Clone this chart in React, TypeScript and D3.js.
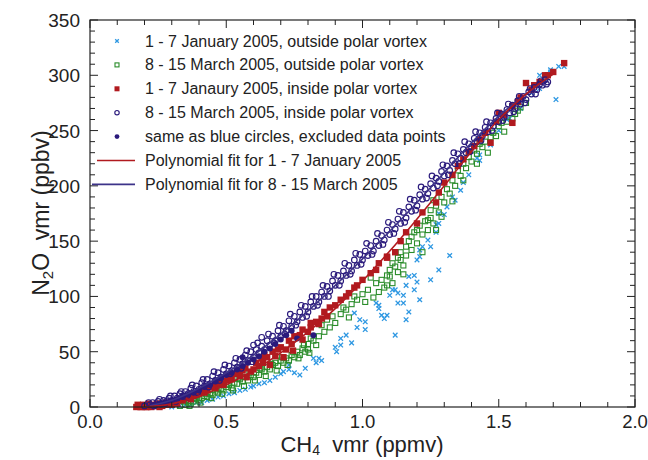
import React from 'react';
import * as d3 from 'd3';

// CH4 (ppmv), N2O (ppbv) pairs
const janOutside = [
  [0.30,0],[0.33,1],[0.35,2],[0.37,2],[0.39,4],[0.41,4],[0.43,6],[0.45,7],[0.47,9],[0.49,10],
  [0.51,12],[0.53,13],[0.55,15],[0.57,16],[0.59,18],[0.60,19],[0.62,21],[0.64,22],[0.66,24],[0.68,27],
  [0.70,30],[0.71,32],[0.73,34],[0.73,38],[0.75,31],[0.77,29],[0.79,35],[0.82,44],[0.84,44],[0.85,42],
  [0.83,40],[0.90,54],[0.905,50],[0.92,62],[0.92,56],[0.94,65],[0.96,58],[0.97,85],[0.98,72],[0.99,79],
  [1.01,70],[1.01,77],[1.05,94],[1.06,89],[1.06,92],[1.07,83],[1.08,80],[1.09,83],[1.10,101],[1.11,106],
  [1.12,65],[1.12,106],[1.13,94],[1.13,103],[1.15,101],[1.15,94],[1.16,79],[1.16,110],[1.17,86],[1.17,118],
  [1.19,106],[1.19,119],[1.20,113],[1.20,133],[1.21,97],[1.21,136],[1.21,142],[1.22,145],[1.24,151],[1.25,115],
  [1.25,145],[1.27,158],[1.27,165],[1.28,124],[1.28,166],[1.28,175],[1.30,174],[1.31,181],[1.32,137],[1.33,190],
  [1.34,187],[1.36,196],[1.37,203],[1.39,210],[1.42,225],[1.43,228],[1.43,223],[1.47,237],[1.50,250],[1.53,260],
  [1.54,261],[1.58,270],[1.585,278],[1.62,284],[1.65,288],[1.65,300],[1.67,296],[1.69,303],[1.69,305],[1.71,278],
  [1.72,308],[1.74,308],
];

const marchOutside = [
  [0.33,1],[0.35,2],[0.36,4],[0.37,3],[0.38,5],[0.39,7],[0.40,6],[0.41,8],[0.42,10],[0.43,9],
  [0.44,12],[0.45,11],[0.46,14],[0.47,13],[0.48,16],[0.49,15],[0.50,18],[0.51,20],[0.52,17],[0.53,22],
  [0.54,21],[0.55,25],[0.56,23],[0.57,27],[0.58,24],[0.59,29],[0.60,27],[0.61,31],[0.62,29],[0.63,34],
  [0.64,32],[0.65,36],[0.66,34],[0.67,38],[0.68,40],[0.69,37],[0.70,42],[0.71,40],[0.72,44],[0.73,42],
  [0.74,47],[0.75,45],[0.76,50],[0.77,47],[0.78,53],[0.79,50],[0.80,52],[0.80,57],[0.82,60],[0.83,56],
  [0.84,64],[0.86,68],[0.87,79],[0.88,72],[0.90,76],[0.92,84],[0.94,88],[0.95,81],[0.96,93],[0.98,97],
  [1.00,102],[1.02,106],[1.03,117],[1.04,99],[1.05,112],[1.07,115],[1.08,108],[1.09,110],[1.09,119],[1.10,124],
  [1.10,118],[1.11,130],[1.12,127],[1.13,135],[1.13,122],[1.14,133],[1.14,140],[1.15,128],[1.16,145],[1.16,137],
  [1.17,150],[1.18,154],[1.18,142],[1.19,158],[1.20,148],[1.20,160],[1.21,164],[1.22,156],[1.23,168],[1.24,169],
  [1.24,160],[1.25,178],[1.25,171],[1.26,187],[1.26,166],[1.27,182],[1.28,176],[1.29,190],[1.30,185],[1.31,197],
  [1.32,193],[1.33,205],[1.34,200],[1.35,214],[1.36,209],[1.37,220],[1.38,216],[1.39,226],[1.40,222],[1.41,232],
  [1.42,229],[1.43,238],[1.44,235],[1.46,230],[1.47,244],[1.48,248],[1.50,254],[1.52,249],[1.53,258],[1.55,261],
  [1.57,268],[1.60,275],
  [0.345,5],[0.365,1],[0.385,8],[0.405,4],[0.425,12],[0.445,8],[0.465,16],[0.485,12],[0.505,21],[0.525,15],
  [0.545,26],[0.565,19],[0.585,31],[0.605,24],[0.625,35],[0.645,28],[0.665,39],[0.685,33],[0.705,45],[0.725,38],
  [0.745,50],[0.765,44],[0.785,56],[0.805,49],[0.81,62],[0.85,74],[0.89,82],[0.93,90],[0.97,100],[1.01,95],
  [1.06,104],[1.11,112],[1.15,120],[1.22,140],[1.27,160],[1.29,172],[1.33,186],[1.37,205],[1.42,220],[1.45,240],
  [1.49,245],[1.51,257],[1.56,265],[1.58,271],
];

const janInside = [
  [0.17,0],[0.18,1],[0.19,0],[0.20,1],[0.21,0],[0.22,2],[0.23,1],[0.24,1],[0.25,2],[0.26,3],
  [0.27,2],[0.28,4],[0.29,3],[0.30,5],[0.31,4],[0.32,6],[0.33,7],[0.34,6],[0.35,8],[0.36,9],
  [0.38,10],[0.40,12],[0.41,14],[0.43,15],[0.44,18],[0.46,17],[0.47,22],[0.49,20],[0.50,24],[0.52,25],
  [0.53,30],[0.55,28],[0.56,33],[0.575,27],[0.59,32],[0.60,34],[0.61,40],[0.635,40],[0.63,44],[0.65,45],
  [0.66,38],[0.67,50],[0.70,54],[0.71,45],[0.72,52],[0.73,60],[0.745,51],[0.75,64],[0.78,61],[0.78,70],
  [0.81,72],[0.81,76],[0.83,77],[0.85,80],[0.86,86],[0.88,90],[0.92,97],[0.95,103],[0.97,108],[1.00,115],
  [1.03,121],[1.05,124],[1.06,130],[1.09,135],[1.09,136],[1.12,140],[1.14,150],[1.16,158],[1.20,166],[1.22,176],
  [1.27,185],[1.28,194],[1.30,203],[1.33,210],[1.35,218],[1.37,224],[1.39,231],[1.41,236],[1.43,242],[1.45,248],
  [1.47,239],[1.49,258],[1.50,266],[1.52,264],[1.55,257],[1.55,272],[1.57,276],[1.58,280],[1.60,293],[1.62,287],
  [1.63,291],[1.65,294],[1.67,300],[1.68,300],[1.70,303],[1.74,311],
  [0.175,2],[0.185,0],[0.195,2],[0.205,0],[0.215,3],[0.225,0],[0.245,3],[0.255,0],[0.265,1],[0.285,2],
  [0.30,2],[0.32,3],[0.37,7],[0.39,11],[0.42,13],[0.45,19],[0.48,21],[0.51,27],[0.54,31],[0.57,35],
  [0.62,37],[0.64,47],[0.68,46],[0.69,52],[0.74,57],[0.77,65],[0.80,68],[0.84,75],[0.87,82],[0.90,92],
  [0.94,100],[0.98,110],
];

const marchInside = [
  [0.20,1],[0.22,2],[0.23,4],[0.24,2],[0.25,5],[0.26,3],[0.27,6],[0.28,5],[0.29,8],[0.30,6],
  [0.31,10],[0.32,8],[0.33,12],[0.34,10],[0.35,14],[0.36,12],[0.37,17],[0.38,14],[0.39,19],[0.40,16],
  [0.41,22],[0.42,19],[0.43,25],[0.44,21],[0.45,28],[0.46,24],[0.47,31],[0.48,27],[0.49,34],[0.50,30],
  [0.51,37],[0.52,33],[0.53,40],[0.54,36],[0.55,43],[0.56,39],[0.57,47],[0.58,42],[0.59,50],[0.60,56],
  [0.60,45],[0.61,52],[0.62,49],[0.63,63],[0.63,55],[0.64,52],[0.65,60],[0.66,56],[0.67,64],[0.68,60],
  [0.69,69],[0.70,64],[0.71,73],[0.72,69],[0.73,78],[0.74,73],[0.75,82],[0.76,77],[0.77,86],[0.78,81],
  [0.79,91],[0.80,86],[0.81,95],[0.82,91],[0.83,100],[0.84,95],[0.85,104],[0.86,100],[0.87,109],[0.88,105],
  [0.89,114],[0.90,110],[0.91,119],[0.92,114],[0.93,123],[0.94,119],[0.95,128],[0.96,123],[0.97,133],[0.98,128],
  [0.99,138],[1.00,133],[1.01,141],[1.02,137],[1.03,146],[1.04,141],[1.05,150],[1.06,146],[1.07,155],[1.08,151],
  [1.09,160],[1.10,156],[1.11,165],[1.12,161],[1.13,170],[1.14,166],[1.15,176],[1.16,171],[1.17,181],[1.18,177],
  [1.19,187],[1.20,182],[1.21,192],[1.22,188],[1.23,197],[1.24,193],[1.25,202],[1.26,198],[1.27,207],[1.28,204],
  [1.29,213],[1.30,209],[1.31,218],[1.32,214],[1.33,223],[1.34,220],[1.35,229],[1.36,225],[1.37,233],[1.38,230],
  [1.39,238],[1.40,235],[1.41,243],[1.42,240],[1.43,248],[1.44,245],[1.45,253],[1.46,249],[1.47,257],[1.48,254],
  [1.49,261],[1.50,258],[1.51,265],[1.52,262],[1.53,269],[1.54,266],[1.55,273],[1.56,270],[1.57,277],[1.58,274],
  [1.59,281],[1.60,278],[1.61,285],[1.62,283],[1.63,289],[1.64,287],[1.65,292],[1.66,291],[1.67,296],[1.68,294],
  [0.215,4],[0.235,1],[0.255,7],[0.275,3],[0.295,10],[0.315,5],[0.335,14],[0.355,9],[0.375,20],[0.395,13],
  [0.415,25],[0.435,18],[0.455,32],[0.475,24],[0.495,38],[0.515,30],[0.535,44],[0.555,35],[0.575,51],[0.595,41],
  [0.615,58],[0.655,66],[0.675,58],[0.695,74],[0.715,66],[0.735,84],[0.755,74],[0.775,92],[0.795,82],[0.815,100],
  [0.835,92],[0.855,110],[0.875,100],[0.895,120],[0.915,110],[0.935,130],[0.955,120],[0.975,139],[0.995,129],[1.015,148],
  [1.035,138],[1.055,157],[1.075,147],[1.095,167],[1.115,157],[1.135,177],[1.155,167],[1.175,188],[1.195,178],[1.215,199],
  [1.235,189],[1.255,209],[1.275,200],[1.295,219],[1.315,210],[1.335,230],[1.355,220],[1.375,240],[1.395,231],[1.415,249],
  [1.435,241],[1.455,258],[1.475,250],[1.495,266],[1.515,259],[1.535,274],[1.555,267],[1.575,281],[1.595,275],[1.615,288],
  [1.635,283],[1.655,295],[1.675,292],
];

const excluded = [
  [0.26,2],[0.28,4],[0.30,5],[0.32,7],[0.34,9],[0.36,11],[0.38,13],[0.40,15],[0.42,18],[0.44,20],
  [0.46,23],[0.48,26],[0.50,29],[0.52,31],[0.54,34],[0.56,45],[0.56,37],[0.58,40],[0.60,43],[0.62,46],
  [0.64,50],[0.66,53],[0.68,57],[0.70,61],[0.72,65],[0.74,69],[0.76,62],[0.82,65],
];

const janFit = [
  [0.20,0],[0.30,3],[0.40,10],[0.50,20],[0.60,33],[0.70,49],[0.80,68],[0.90,89],[1.00,114],
  [1.10,141],[1.20,170],[1.30,200],[1.40,231],[1.50,260],[1.60,283],[1.70,301],
];
const marchFit = [
  [0.22,1],[0.30,6],[0.40,17],[0.50,31],[0.60,47],[0.70,66],[0.80,87],[0.90,110],[1.00,134],
  [1.10,159],[1.20,185],[1.30,212],[1.40,239],[1.50,263],[1.60,283],[1.68,297],
];

const legendLabels = [
  '1 - 7 January 2005, outside polar vortex',
  '8 - 15 March 2005, outside polar vortex',
  '1 - 7 Janaury 2005, inside polar vortex',
  '8 - 15 March 2005, inside polar vortex',
  'same as blue circles, excluded data points',
  'Polynomial fit for 1 - 7 January 2005',
  'Polynomial fit for 8 - 15 March 2005',
];

const xMajor = [0, 0.5, 1.0, 1.5, 2.0];
const yMajor = [0, 50, 100, 150, 200, 250, 300, 350];

const CYAN = '#2f98e2';
const GREEN = '#2a8c2a';
const RED = '#b11a1f';
const NAVY = '#2a1a7c';
const FIT_NAVY = '#3d3389';
const INK = '#222';
const FONT = '"Liberation Sans", Arial, sans-serif';

const Cross = ({ x, y, s = 2.3 }) => (
  <path d={`M${x - s},${y - s}L${x + s},${y + s}M${x - s},${y + s}L${x + s},${y - s}`} stroke={CYAN} strokeWidth={1.3} />
);
const OpenSq = ({ x, y, s = 2.5 }) => (
  <rect x={x - s} y={y - s} width={2 * s} height={2 * s} fill="none" stroke={GREEN} strokeWidth={1.1} />
);
const FillSq = ({ x, y, s = 3.2 }) => (
  <rect x={x - s} y={y - s} width={2 * s} height={2 * s} fill={RED} />
);
const OpenCirc = ({ x, y, r = 2.8 }) => (
  <circle cx={x} cy={y} r={r} fill="none" stroke={NAVY} strokeWidth={1.15} />
);
const Dot = ({ x, y, r = 3 }) => <circle cx={x} cy={y} r={r} fill={NAVY} />;

export default function App() {
  const width = 648;
  const height = 460;
  const left = 90, right = 635, top = 20, bottom = 407;

  const x = d3.scaleLinear().domain([0, 2]).range([left, right]);
  const y = d3.scaleLinear().domain([0, 350]).range([bottom, top]);

  const xMinor = d3.range(0, 2.0001, 0.1);
  const yMinor = d3.range(0, 350.001, 10);

  const line = d3.line<number[]>().x(d => x(d[0])).y(d => y(d[1])).curve(d3.curveCatmullRom);

  const legendX = 117;
  const legendY = d3.range(7).map(i => 41 + i * 23.9);

  return (
    <svg width={width} height={height} style={{ position: 'absolute', left: 0, top: 0, background: '#fff' }} fontFamily={FONT}>
      <rect width={width} height={height} fill="#fff" />

      {/* data */}
      <g>{janOutside.map((d, i) => <Cross key={i} x={x(d[0])} y={y(d[1])} />)}</g>
      <g>{marchOutside.map((d, i) => <OpenSq key={i} x={x(d[0])} y={y(d[1])} />)}</g>
      <g>{janInside.map((d, i) => <FillSq key={i} x={x(d[0])} y={y(d[1])} />)}</g>
      <g>{marchInside.map((d, i) => <OpenCirc key={i} x={x(d[0])} y={y(d[1])} />)}</g>
      <g>{excluded.map((d, i) => <Dot key={i} x={x(d[0])} y={y(d[1])} />)}</g>
      <path d={line(marchFit) || ''} fill="none" stroke={FIT_NAVY} strokeWidth={1.6} />
      <path d={line(janFit) || ''} fill="none" stroke={RED} strokeWidth={1.6} />

      {/* frame and ticks */}
      <rect x={left} y={top} width={right - left} height={bottom - top} fill="none" stroke={INK} strokeWidth={1.2} />
      {xMinor.map((v, i) => {
        const len = i % 5 === 0 ? 8 : 5;
        return (
          <g key={'xt' + i} stroke={INK} strokeWidth={1}>
            <line x1={x(v)} x2={x(v)} y1={bottom} y2={bottom - len} />
            <line x1={x(v)} x2={x(v)} y1={top} y2={top + len} />
          </g>
        );
      })}
      {yMinor.map((v, i) => {
        const len = i % 5 === 0 ? 8 : 5;
        return (
          <g key={'yt' + i} stroke={INK} strokeWidth={1}>
            <line x1={left} x2={left + len} y1={y(v)} y2={y(v)} />
            <line x1={right} x2={right - len} y1={y(v)} y2={y(v)} />
          </g>
        );
      })}
      {xMajor.map(v => (
        <text key={'xl' + v} x={x(v)} y={428} textAnchor="middle" fontSize={18.5} fill={INK}>{v.toFixed(1)}</text>
      ))}
      {yMajor.map(v => (
        <text key={'yl' + v} x={80} y={y(v) + 7} textAnchor="end" fontSize={19} fill={INK}>{v}</text>
      ))}

      {/* axis titles */}
      <text x={362} y={452} textAnchor="middle" fontSize={22} fill={INK}>
        CH<tspan fontSize={14} dy={3}>4</tspan><tspan dy={-3}>{'\u00a0\u00a0'}vmr (ppmv)</tspan>
      </text>
      <text transform="translate(49,213) rotate(-90)" textAnchor="middle" fontSize={23} fill={INK}>
        N<tspan fontSize={15} dy={4}>2</tspan><tspan dy={-4}>O{'\u00a0\u00a0'}vmr (ppbv)</tspan>
      </text>

      {/* legend */}
      <g>
        <Cross x={legendX} y={legendY[0]} s={1.8} />
        <OpenSq x={legendX} y={legendY[1]} s={2} />
        <FillSq x={legendX} y={legendY[2]} s={2.5} />
        <OpenCirc x={legendX} y={legendY[3]} r={2.2} />
        <Dot x={legendX} y={legendY[4]} r={2.4} />
        <line x1={97} x2={135} y1={legendY[5]} y2={legendY[5]} stroke={RED} strokeWidth={1.6} />
        <line x1={92} x2={135} y1={legendY[6]} y2={legendY[6]} stroke={FIT_NAVY} strokeWidth={1.8} />
        {legendLabels.map((t, i) => (
          <text key={t} x={145} y={legendY[i] + 5.5} fontSize={16} fill={INK}>{t}</text>
        ))}
      </g>
    </svg>
  );
}
